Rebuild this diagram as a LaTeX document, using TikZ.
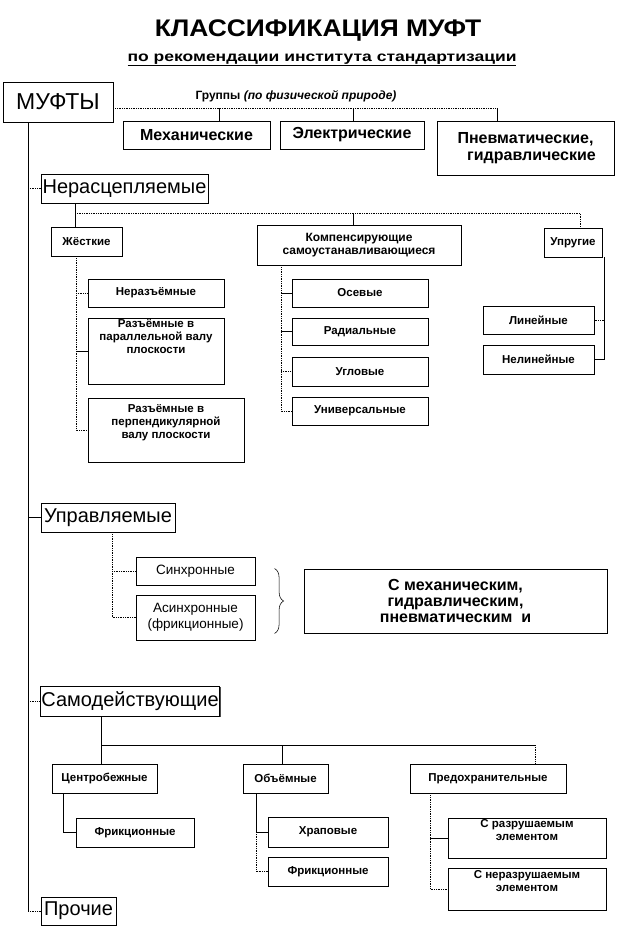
\documentclass[tikz,border=0pt]{standalone}
\usepackage{fontspec}
\setmainfont{Liberation Sans}
\usetikzlibrary{shadows,decorations.pathreplacing}
\newcommand\mybox[7]{\node[box,minimum width=#4pt,minimum height=#5pt,font=#6] (#1) at ({#2+#4/2},{#3+#5/2}) {#7};}
\tikzset{
  box/.style={draw=black,line width=0.8pt,fill=white,align=center,inner sep=1pt,
    drop shadow={shadow xshift=1.4pt,shadow yshift=-1.4pt,fill=black!70,opacity=1}},
  ln/.style={line width=0.75pt},
  dl/.style={line width=0.75pt,densely dotted},
}
\newcommand\fs[1]{\fontsize{#1}{#1}\selectfont}
\newcommand\fsb[1]{\fontsize{#1}{13}\selectfont\bfseries}
\begin{document}
\begin{tikzpicture}[x=1pt,y=-1pt]
\useasboundingbox (0,0) rectangle (619,928);
% titles
\node[font=\fontsize{24}{24}\selectfont\bfseries] (t1) at (318,31) {\scalebox{1.1}[1]{КЛАССИФИКАЦИЯ МУФТ}};
\node[font=\fontsize{14}{14}\selectfont\bfseries] (t2) at (322,60) {\scalebox{1.25}[1]{\underline{по рекомендации института стандартизации}}};
% top level
\mybox{muf}{3}{82}{110}{40}{\fs{23}}{МУФТЫ}
\node[font=\fontsize{12}{12}\selectfont\bfseries] (grp) at (296,96) {Группы \textit{(по физической природе)}};
\mybox{mech}{123}{121}{147}{28}{\fsb{16}}{Механические}
\mybox{el}{280}{121}{144}{28}{\fsb{16}}{Электрические}
\mybox{pn}{437}{121}{177}{54}{\fontsize{16}{17}\selectfont\bfseries}{Пневматические,\\\hspace*{12pt}гидравлические}
% main categories
\mybox{nr}{41}{174}{167}{29}{\fs{20}}{Нерасцепляемые}
\mybox{upr}{41}{503}{134}{29}{\fs{20}}{Управляемые}
\mybox{sam}{41}{686}{178}{30}{\fs{20}}{Самодействующие}
\mybox{pro}{41}{897}{75}{28}{\fs{20}}{Прочие}
% Нерасцепляемые subtree
\mybox{zh}{51}{227}{71}{29}{\fsb{11.5}}{Жёсткие}
\mybox{km}{257}{225}{204}{40}{\fsb{12}}{Компенсирующие\\самоустанавливающиеся}
\mybox{up}{544}{228}{58}{29}{\fsb{11.5}}{Упругие}
\mybox{nraz}{88}{279}{136}{28}{\fsb{11.5}}{Неразъёмные}
\mybox{rpar}{88}{318}{136}{66}{\fsb{11.5}}{Разъёмные в\\параллельной валу\\плоскости\\[16pt]}
\mybox{rperp}{88}{398}{156}{64}{\fsb{11.5}}{Разъёмные в\\перпендикулярной\\валу плоскости\\[4pt]}
\mybox{os}{292}{279}{136}{28}{\fsb{11.5}}{Осевые}
\mybox{rad}{292}{318}{136}{27}{\fsb{11.5}}{Радиальные}
\mybox{ug}{292}{357}{136}{29}{\fsb{11.5}}{Угловые}
\mybox{un}{292}{397}{136}{28}{\fsb{11.5}}{Универсальные}
\mybox{lin}{483}{306}{111}{28}{\fsb{11.5}}{Линейные}
\mybox{nlin}{483}{345}{111}{29}{\fsb{11.5}}{Нелинейные}
% Управляемые subtree
\mybox{sin}{136}{557}{119}{28}{\fs{13.5}}{Синхронные}
\mybox{asin}{136}{595}{119}{45}{\fontsize{13.5}{16}\selectfont}{Асинхронные\\(фрикционные)}
\mybox{cm}{304}{569}{303}{64}{\fontsize{16}{16}\selectfont\bfseries}{С механическим,\\гидравлическим,\\пневматическим\ \ и}
% Самодействующие subtree
\mybox{cb}{52}{764}{105}{29}{\fsb{11.5}}{Центробежные}
\mybox{ob}{243}{764}{85}{29}{\fsb{11.5}}{Объёмные}
\mybox{pr}{410}{764}{156}{29}{\fsb{11.5}}{Предохранительные}
\mybox{fr1}{76}{818}{118}{29}{\fsb{11.5}}{Фрикционные}
\mybox{hr}{268}{817}{120}{30}{\fsb{11.5}}{Храповые}
\mybox{fr2}{268}{857}{120}{29}{\fsb{11.5}}{Фрикционные}
\mybox{sr}{448}{818}{158}{40}{\fsb{11.5}}{С разрушаемым\\элементом\\[3pt]}
\mybox{snr}{448}{868}{158}{42}{\fsb{11.5}}{С неразрушаемым\\элементом\\[3pt]}
% coordinates for spines
\coordinate (sp) at (28,0);
\coordinate (gy) at (0,108);
\coordinate (ny) at (0,213);
\coordinate (sy) at (0,745);
% main spine
\draw[ln] (sp |- muf.south) -- (sp |- pro.west);
\draw[dl] (sp |- nr.west) -- (nr.west);
\draw[ln] (sp |- upr.west) -- (upr.west);
\draw[dl] (sp |- sam.west) -- (sam.west);
\draw[dl] (sp |- pro.west) -- (pro.west);
% groups
\draw[dl] (muf.east |- gy) -- ([xshift=-28pt]pn.north |- gy);
\draw[ln] ([xshift=23pt]mech.north) -- ([xshift=23pt]mech.north |- gy);
\draw[ln] ([xshift=1pt]el.north) -- ([xshift=1pt]el.north |- gy);
\draw[ln] ([xshift=-28pt]pn.north) -- ([xshift=-28pt]pn.north |- gy);
% Нерасцепляемые
\coordinate (jx) at (75,0);
\draw[ln] (jx |- nr.south) -- (jx |- zh.north);
\draw[dl] (jx |- ny) -- ([xshift=7pt]up.north |- ny) -- ([xshift=7pt]up.north);
\draw[ln] ([xshift=-6pt]km.north) -- ([xshift=-6pt]km.north |- ny);
% Жёсткие children
\coordinate (zx) at (76,0);
\draw[dl] (zx |- zh.south) -- (zx |- rperp.west) -- (rperp.west);
\draw[dl] (zx |- nraz.west) -- (nraz.west);
\draw[ln] (zx |- rpar.west) -- (rpar.west);
% Компенсирующие children
\coordinate (kx) at (281,0);
\draw[dl] (kx |- km.south) -- (kx |- un.west) -- (un.west);
\draw[ln] (kx |- os.west) -- (os.west);
\draw[ln] (kx |- rad.west) -- (rad.west);
\draw[dl] (kx |- ug.west) -- (ug.west);
% Упругие children
\coordinate (ux) at (604,0);
\draw[ln] (ux |- up.south) -- (ux |- nlin.east) -- (nlin.east);
\draw[dl] (ux |- lin.east) -- (lin.east);
% Управляемые children
\coordinate (yx) at (112,0);
\draw[dl] (yx |- upr.south) -- (yx |- asin.west) -- (asin.west);
\draw[dl] (yx |- sin.west) -- (sin.west);
\draw[decorate,decoration={brace,amplitude=9pt},line width=0.55pt] ([xshift=-29pt]cm.north west) -- ([xshift=-29pt]cm.south west);
% Самодействующие
\coordinate (sx) at (101,0);
\draw[ln] (sx |- sam.south) -- (sx |- cb.north);
\draw[ln] (sx |- sy) -- ([xshift=47pt]pr.north |- sy);
\draw[dl] ([xshift=47pt]pr.north |- sy) -- ([xshift=47pt]pr.north);
\draw[ln] ([xshift=-3pt]ob.north) -- ([xshift=-3pt]ob.north |- sy);
% Центробежные
\coordinate (cx) at (63,0);
\draw[ln] (cx |- cb.south) -- (cx |- fr1.west) -- (fr1.west);
% Объёмные
\coordinate (ox) at (256,0);
\draw[ln] (ox |- ob.south) -- (ox |- hr.west) -- (hr.west);
\draw[dl] (ox |- hr.west) -- (ox |- fr2.west) -- (fr2.west);
% Предохранительные
\coordinate (px) at (430,0);
\draw[dl] (px |- pr.south) -- (px |- snr.west) -- (snr.west);
\draw[ln] (px |- sr.west) -- (sr.west);
\end{tikzpicture}
\end{document}
